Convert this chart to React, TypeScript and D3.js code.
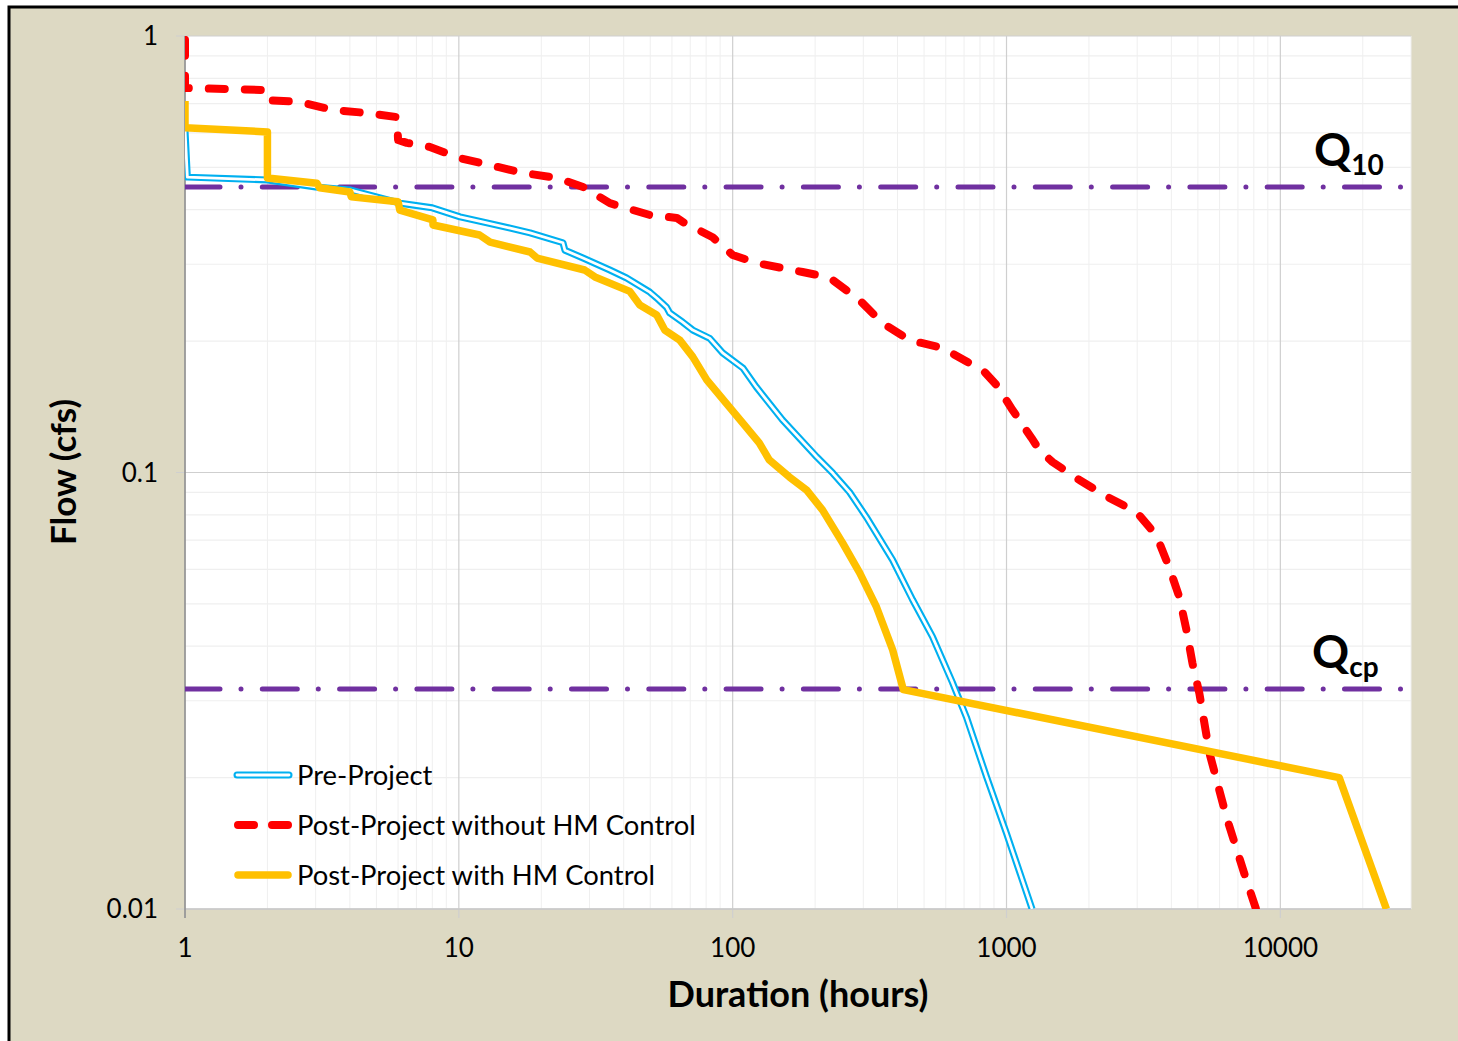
import * as d3 from 'd3'

// flow duration curves
const preDur = [1, 1.02, 2, 3, 4, 6.1, 8, 10.1, 12.2, 15.4, 18.2, 24, 24.4, 28.4, 35.6, 41, 49.8, 52.8, 57.4, 58.9, 65.7, 71.5, 82.4, 91.9, 109, 122, 152, 203, 232, 267, 308, 384, 454, 537, 635, 714, 845, 1000, 1240]
const preFlow = [0.61, 0.475, 0.468, 0.451, 0.444, 0.414, 0.404, 0.385, 0.375, 0.363, 0.354, 0.336, 0.323, 0.31, 0.291, 0.279, 0.259, 0.251, 0.239, 0.232, 0.221, 0.212, 0.203, 0.188, 0.1735, 0.157, 0.132, 0.1085, 0.0997, 0.0902, 0.079, 0.063, 0.0511, 0.042, 0.033, 0.0275, 0.0201, 0.0149, 0.01]

const noHmDur = [1, 1, 1.96, 2, 2.63, 3.47, 4.62, 5.94, 6, 6.46, 7.84, 10.1, 13, 17.1, 22.8, 28.4, 35.6, 49.8, 62.5, 65.7, 84.5, 100, 122, 180, 220, 232, 291, 352, 442, 583, 733, 817, 920, 1052, 1234, 1318, 1472, 1846, 2337, 2980, 3324, 3556, 3935, 4278, 4539, 4775, 5061, 5506, 6355, 7516, 8150]
const noHmFlow = [0.98, 0.76, 0.752, 0.713, 0.706, 0.677, 0.666, 0.652, 0.578, 0.569, 0.557, 0.525, 0.506, 0.486, 0.473, 0.451, 0.414, 0.389, 0.383, 0.375, 0.346, 0.315, 0.302, 0.288, 0.2805, 0.276, 0.248, 0.22, 0.201, 0.193, 0.178, 0.172, 0.1586, 0.139, 0.12, 0.1126, 0.1057, 0.0961, 0.0879, 0.0812, 0.075, 0.0708, 0.0604, 0.0518, 0.0436, 0.0366, 0.0312, 0.0228, 0.01625, 0.01165, 0.01]

const hmDur = [1, 1, 2, 2, 3.03, 3.1, 4, 4.05, 6, 6.09, 8.04, 8.05, 11.9, 13, 18.2, 19.3, 28.8, 31.4, 42.1, 45.8, 52.8, 56.5, 64.1, 71.5, 80.4, 97.5, 112, 125, 136, 161, 186, 213, 252, 291, 335, 384, 420, 16400, 24400]
const hmFlow = [0.71, 0.616, 0.603, 0.473, 0.46, 0.449, 0.439, 0.428, 0.417, 0.399, 0.379, 0.369, 0.35, 0.337, 0.32, 0.31, 0.291, 0.2805, 0.26, 0.242, 0.2296, 0.212, 0.201, 0.184, 0.163, 0.141, 0.127, 0.1169, 0.1069, 0.0977, 0.0912, 0.082, 0.069, 0.0589, 0.0492, 0.0392, 0.0318, 0.02, 0.01]

const q10 = 0.451
const qcp = 0.0319

const xMajor = [1, 10, 100, 1000, 10000]
const yMajor = [0.01, 0.1, 1]
const yLabels = ['0.01', '0.1', '1']

const legendNames = ['Pre-Project', 'Post-Project without HM Control', 'Post-Project with HM Control']

const FONT = 'Lato, "Open Sans", sans-serif'

export default function App() {
  const width = 1458
  const height = 1041
  const left = 185
  const top = 36
  const right = 1411
  const bottom = 909

  const x = d3.scaleLog().domain([1, 30000]).range([left, right])
  const y = d3.scaleLog().domain([0.01, 1]).range([bottom, top])

  const line = d3
    .line<[number, number]>()
    .x((d) => x(d[0]))
    .y((d) => y(d[1]))

  const zip = (a: number[], b: number[]) => a.map((v, i) => [v, b[i]] as [number, number])

  const prePath = line(zip(preDur, preFlow)) || ''
  const noHmPath = line(zip(noHmDur, noHmFlow)) || ''
  const hmPath = line(zip(hmDur, hmFlow)) || ''

  const xMinor = x.ticks().filter((v) => !xMajor.includes(v))
  const yMinor = y.ticks().filter((v) => !yMajor.includes(v))

  const legendY = [775, 825, 875]

  return (
    <div style={{ position: 'absolute', left: 0, top: 0 }}>
      <svg width={width} height={height} style={{ display: 'block' }}>
        <defs>
          <clipPath id="plot">
            <rect x={left} y={top} width={right - left} height={bottom - top} />
          </clipPath>
        </defs>
        <rect x={0} y={0} width={width} height={height} fill="#fff" />
        <rect x={9} y={7} width={width + 20} height={height + 20} fill="#DDD9C3" stroke="#000" strokeWidth={3} />
        <rect x={left} y={top} width={right - left} height={bottom - top} fill="#fff" />

        {/* minor grid */}
        {xMinor.map((v) => (
          <line key={'xm' + v} x1={x(v)} x2={x(v)} y1={top} y2={bottom} stroke="#EFEFEF" strokeWidth={1} />
        ))}
        {yMinor.map((v) => (
          <line key={'ym' + v} x1={left} x2={right} y1={y(v)} y2={y(v)} stroke="#EFEFEF" strokeWidth={1.2} />
        ))}
        {/* major grid */}
        {xMajor.map((v) => (
          <line key={'xM' + v} x1={x(v)} x2={x(v)} y1={top} y2={bottom + 9} stroke="#CFCFCF" strokeWidth={1.2} />
        ))}
        {yMajor.map((v) => (
          <line key={'yM' + v} x1={left - 9} x2={right} y1={y(v)} y2={y(v)} stroke="#CFCFCF" strokeWidth={1.2} />
        ))}
        <line x1={left} x2={right} y1={bottom} y2={bottom} stroke="#C8C8C8" strokeWidth={1.5} />
        <line x1={left} x2={left} y1={top} y2={bottom + 9} stroke="#8C8C8C" strokeWidth={1.5} />

        {/* tick labels */}
        {xMajor.map((v) => (
          <text key={'xl' + v} x={x(v)} y={957} textAnchor="middle" fontFamily={FONT} fontSize={26} fill="#000">
            {v}
          </text>
        ))}
        {yMajor.map((v, i) => (
          <text key={'yl' + v} x={158} y={y(v) + 9} textAnchor="end" fontFamily={FONT} fontSize={26} fill="#000">
            {yLabels[i]}
          </text>
        ))}

        <g clipPath="url(#plot)">
          {/* threshold lines */}
          {[q10, qcp].map((v) => (
            <line
              key={'q' + v}
              x1={left}
              x2={right}
              y1={y(v)}
              y2={y(v)}
              stroke="#7030A0"
              strokeWidth={5}
              strokeLinecap="round"
              strokeDasharray="35 21 0 21.3"
            />
          ))}
          {/* pre-project, compound line */}
          <path d={prePath} fill="none" stroke="#00B0F0" strokeWidth={7} strokeLinejoin="round" />
          <path d={prePath} fill="none" stroke="#fff" strokeWidth={2.8} strokeLinejoin="round" />
          {/* post-project without HM */}
          <path d={noHmPath} fill="none" stroke="#FF0000" strokeWidth={8} strokeLinecap="round" strokeLinejoin="round" strokeDasharray="16 20" />
          {/* post-project with HM */}
          <path d={hmPath} fill="none" stroke="#FFC000" strokeWidth={7.5} strokeLinejoin="round" />
        </g>

        {/* threshold labels */}
        <text x={1314} y={166} fontFamily={FONT} fontWeight="bold" fontSize={46} fill="#000">
          Q<tspan fontSize={28} dy={9}>10</tspan>
        </text>
        <text x={1312} y={668} fontFamily={FONT} fontWeight="bold" fontSize={46} fill="#000">
          Q<tspan fontSize={28} dy={9}>cp</tspan>
        </text>

        {/* legend */}
        <line x1={237} x2={289} y1={legendY[0]} y2={legendY[0]} stroke="#00B0F0" strokeWidth={7} strokeLinecap="round" />
        <line x1={237} x2={289} y1={legendY[0]} y2={legendY[0]} stroke="#fff" strokeWidth={2.8} strokeLinecap="round" />
        <line x1={238} x2={288} y1={legendY[1]} y2={legendY[1]} stroke="#FF0000" strokeWidth={8} strokeLinecap="round" strokeDasharray="16 18" />
        <line x1={238} x2={288} y1={legendY[2]} y2={legendY[2]} stroke="#FFC000" strokeWidth={7.5} strokeLinecap="round" />
        {legendNames.map((n, i) => (
          <text key={n} x={297} y={legendY[i] + 10} fontFamily={FONT} fontSize={27.4} fill="#000">
            {n}
          </text>
        ))}

        {/* axis titles */}
        <text x={798} y={1007} textAnchor="middle" fontFamily={FONT} fontWeight="bold" fontSize={36} fill="#000">
          Duration (hours)
        </text>
        <text
          transform={`translate(76,${472}) rotate(-90)`}
          textAnchor="middle"
          fontFamily={FONT}
          fontWeight="bold"
          fontSize={35}
          fill="#000"
        >
          Flow (cfs)
        </text>
      </svg>
    </div>
  )
}
